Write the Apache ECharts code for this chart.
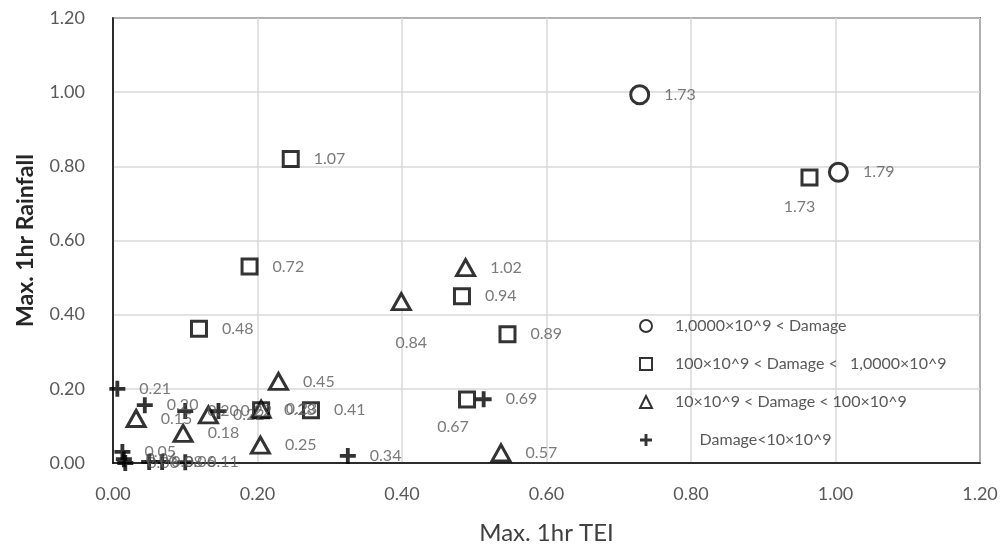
<!DOCTYPE html>
<html>
<head>
<meta charset="utf-8">
<script src="https://cdn.jsdelivr.net/npm/echarts@6/dist/echarts.min.js"></script>
<style>html,body{margin:0;padding:0;background:#fff}#c{width:1002px;height:550px}</style>
</head>
<body>
<div id="c"></div>
<script>
// Data: [Max. 1hr TEI, Max. 1hr Rainfall, point label]
const seriesNames = [
  '1,0000×10^9 < Damage',
  '100×10^9 < Damage <   1,0000×10^9',
  '10×10^9 < Damage < 100×10^9',
  '      Damage<10×10^9'
];
const circlePts = [[0.729, 0.993, '1.73'], [1.004, 0.784, '1.79']];
const squarePts = [
  [0.964, 0.770, '1.73'], [0.246, 0.820, '1.07'], [0.189, 0.530, '0.72'],
  [0.119, 0.362, '0.48'], [0.483, 0.450, '0.94'], [0.546, 0.347, '0.89'],
  [0.490, 0.171, '0.67'], [0.205, 0.142, '0.28'], [0.274, 0.142, '0.41']
];
const trianglePts = [
  [0.488, 0.527, '1.02'], [0.399, 0.435, '0.84'], [0.229, 0.220, '0.45'],
  [0.032, 0.120, '0.15'], [0.097, 0.080, '0.18'], [0.132, 0.130, '0.22'],
  [0.204, 0.048, '0.25'], [0.537, 0.027, '0.57'], [0.205, 0.145, '0.23']
];
const crossPts = [
  [0.006, 0.200, '0.21'], [0.044, 0.156, '0.20'], [0.100, 0.140, '0.20'],
  [0.146, 0.140, '0.22'], [0.325, 0.019, '0.34'], [0.513, 0.172, '0.69'],
  [0.013, 0.030, '0.05'], [0.015, 0.010, '0.06'], [0.017, 0.000, '0.06'],
  [0.050, 0.003, '0.08'], [0.068, 0.003, '0.06'], [0.100, 0.002, '0.11']
];
const xTicks = [0, 0.2, 0.4, 0.6, 0.8, 1.0, 1.2];
const yTicks = [0, 0.2, 0.4, 0.6, 0.8, 1.0, 1.2];

// label placement tweaks (style only)
const belowLabel = {
  square: {0: [-10, 4], 6: [-14, 2]},
  triangle: {1: [10, 16]}
};

const plusPath = 'path://M3.8,0H6.2V3.8H10V6.2H6.2V10H3.8V6.2H0V3.8H3.8Z';
const FONT = 'Lato, "Liberation Sans", sans-serif';

function build(pts, key) {
  return pts.map((p, i) => {
    const item = {value: p};
    const b = belowLabel[key] && belowLabel[key][i];
    if (b) item.label = {position: 'bottom', offset: b, distance: 8};
    return item;
  });
}

const labelCommon = {
  show: true, position: 'right', distance: 14,
  formatter: p => p.value[2], color: '#595959', fontSize: 16, fontFamily: FONT
};
const hollow = {color: '#fff', borderColor: '#000', borderWidth: 3};

const chart = echarts.init(document.getElementById('c'), null, {renderer: 'canvas'});
chart.setOption({
  animation: false,
  backgroundColor: '#fff',
  grid: {left: 113, right: 22, top: 18, bottom: 85, show: true, borderColor: '#000', borderWidth: 1.5, containLabel: false},
  legend: {
    orient: 'vertical', left: 634, top: 313, itemGap: 22, itemWidth: 12, itemHeight: 12,
    textStyle: {color: '#595959', fontSize: 16, fontFamily: FONT, padding: [0, 0, 0, 18]},
    data: seriesNames.map(n => ({name: n}))
  },
  xAxis: {
    type: 'value', min: 0, max: 1.2, interval: 0.2,
    name: 'Max. 1hr TEI', nameLocation: 'middle', nameGap: 58,
    nameTextStyle: {color: '#404040', fontSize: 24, fontFamily: FONT},
    axisLine: {show: true, lineStyle: {color: '#000', width: 1.5}},
    axisTick: {show: false},
    axisLabel: {color: '#595959', fontSize: 18, margin: 22, fontFamily: FONT,
      formatter: v => xTicks.includes(+v.toFixed(2)) ? v.toFixed(2) : ''},
    splitLine: {show: true, lineStyle: {color: '#d9d9d9', width: 1.5}}
  },
  yAxis: {
    type: 'value', min: 0, max: 1.2, interval: 0.2,
    name: 'Max. 1hr Rainfall', nameLocation: 'middle', nameGap: 76,
    nameTextStyle: {color: '#262626', fontSize: 23, fontWeight: 'bold', fontFamily: FONT},
    axisLine: {show: true, lineStyle: {color: '#000', width: 1.5}},
    axisTick: {show: false},
    axisLabel: {color: '#595959', fontSize: 18, margin: 28, fontFamily: FONT,
      formatter: v => yTicks.includes(+v.toFixed(2)) ? v.toFixed(2) : ''},
    splitLine: {show: true, lineStyle: {color: '#d9d9d9', width: 1.5}}
  },
  series: [
    {name: seriesNames[0], type: 'scatter', symbol: 'circle', symbolSize: 18,
     itemStyle: hollow, label: labelCommon, data: build(circlePts, 'circle')},
    {name: seriesNames[1], type: 'scatter', symbol: 'rect', symbolSize: 15,
     itemStyle: hollow, label: labelCommon, data: build(squarePts, 'square')},
    {name: seriesNames[2], type: 'scatter', symbol: 'triangle', symbolSize: [18, 16],
     itemStyle: hollow, label: labelCommon, data: build(trianglePts, 'triangle')},
    {name: seriesNames[3], type: 'scatter', symbol: plusPath, symbolSize: 16,
     itemStyle: {color: '#000'}, label: labelCommon, data: build(crossPts, 'cross')}
  ]
});
</script>
</body>
</html>
